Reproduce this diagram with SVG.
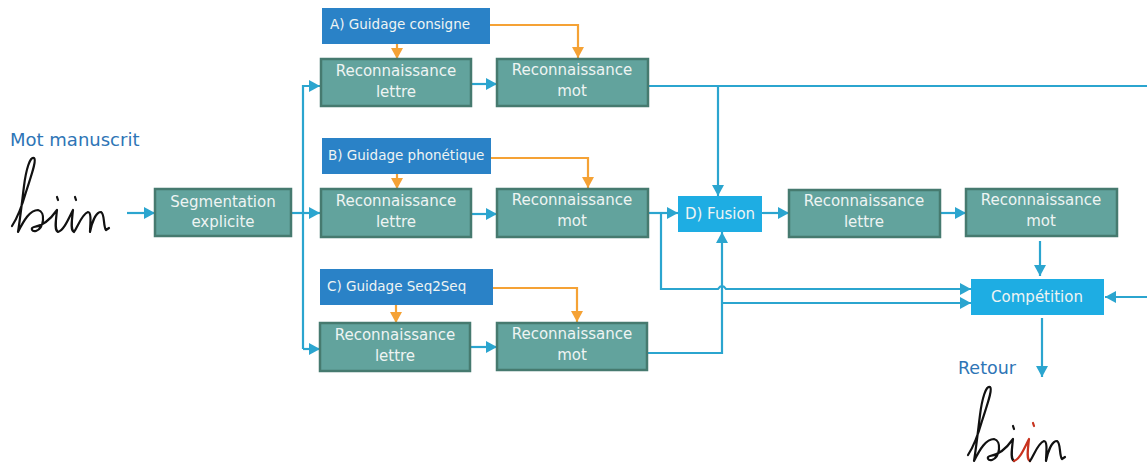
<svg xmlns="http://www.w3.org/2000/svg" width="1147" height="469" viewBox="0 0 1147 469">
  <style>
    .step { fill: #62A39D; stroke: #467A6F; stroke-width: 2.5; }
    .guide { fill: #2A82C7; }
    .merge { fill: #1EADE3; }
    .lbl { font-family: "DejaVu Sans", "Liberation Sans", sans-serif; font-size: 15px; fill: #EEF4F3; text-anchor: middle; }
    .glbl { font-family: "DejaVu Sans", "Liberation Sans", sans-serif; font-size: 13.5px; fill: #EEF4F3; }
    .cap { font-family: "DejaVu Sans", "Liberation Sans", sans-serif; font-size: 18px; fill: #2E75B6; }
    .flow { fill: none; stroke: #2BA5CF; stroke-width: 2.2; }
    .hint { fill: none; stroke: #F5A235; stroke-width: 2.2; }
    .ink { fill: none; stroke: #111; stroke-width: 2.2; stroke-linecap: round; stroke-linejoin: round; }
    .ink-red { fill: none; stroke: #C8321E; stroke-width: 2.2; stroke-linecap: round; stroke-linejoin: round; }
  </style>
  <defs>
    <marker id="arrB" markerUnits="userSpaceOnUse" markerWidth="13" markerHeight="13" refX="11" refY="6" orient="auto">
      <path d="M0,0 L11,6 L0,12 Z" fill="#2BA5CF"/>
    </marker>
    <marker id="arrO" markerUnits="userSpaceOnUse" markerWidth="13" markerHeight="13" refX="11" refY="6" orient="auto">
      <path d="M0,0 L11,6 L0,12 Z" fill="#F5A235"/>
    </marker>
  </defs>

  <!-- handwritten input word -->
  <g id="input">
    <text class="cap" x="10" y="146">Mot manuscrit</text>
    <g id="ink-in">
      <path class="ink" d="M12,226 C16,220 22,206 26,192 C31,176 37,160 34,158 C30,156 26,170 24,186 C22,202 20,220 18,232 C24,220 30,210 38,210 C46,212 44,228 36,231 C32,232 30,228 34,227 C42,226 50,220 57,210 C56,220 54,230 58,232 C64,230 68,220 73,210 C72,220 70,230 74,232 C78,226 82,214 88,212 C92,212 90,226 90,232 C92,222 96,212 101,212 C105,214 103,226 106,230 L109,228"/>
      <path class="ink" d="M57,197 L58,200 M75,197 L76,200"/>
    </g>
  </g>

  <!-- returned word -->
  <g id="output">
    <text class="cap" x="958" y="374" style="font-size:17.5px">Retour</text>
    <g transform="translate(956,229)">
      <path class="ink" d="M12,226 C16,220 22,206 26,192 C31,176 37,160 34,158 C30,156 26,170 24,186 C22,202 20,220 18,232 C24,220 30,210 38,210 C46,212 44,228 36,231 C32,232 30,228 34,227 C42,226 50,220 57,210 C56,220 54,230 58,232"/>
      <path class="ink-red" d="M58,232 C64,230 68,220 73,210 C72,220 70,230 74,232"/>
      <path class="ink" d="M74,232 C78,226 82,214 88,212 C92,212 90,226 90,232 C92,222 96,212 101,212 C105,214 103,226 106,230 L109,228"/>
      <path class="ink" d="M57,197 L58,200"/>
      <path class="ink-red" d="M77,194 L78,197"/>
    </g>
  </g>

  <!-- connectors -->
  <g id="connectors">
    <path class="flow" d="M127,213 L155,213" marker-end="url(#arrB)"/>
    <path class="flow" d="M291,213 L320,213" marker-end="url(#arrB)"/>
    <path class="flow" d="M303,349 L303,86 L320,86" marker-end="url(#arrB)"/>
    <path class="flow" d="M303,349 L320,349" marker-end="url(#arrB)"/>
    <path class="flow" d="M471,84 L497,84" marker-end="url(#arrB)"/>
    <path class="flow" d="M471,214 L497,214" marker-end="url(#arrB)"/>
    <path class="flow" d="M471,347 L497,347" marker-end="url(#arrB)"/>
    <path class="flow" d="M648,86 L1147,86"/>
    <path class="flow" d="M718,86 L718,196" marker-end="url(#arrB)"/>
    <path class="flow" d="M648,213 L678,213" marker-end="url(#arrB)"/>
    <path class="flow" d="M661,213 L661,289 L718,289 Q722,283 726,289 L971,289" marker-end="url(#arrB)"/>
    <path class="flow" d="M648,353 L722,353 L722,232" marker-end="url(#arrB)"/>
    <path class="flow" d="M722,303 L971,303" marker-end="url(#arrB)"/>
    <path class="flow" d="M762,213 L789,213" marker-end="url(#arrB)"/>
    <path class="flow" d="M940,213 L966,213" marker-end="url(#arrB)"/>
    <path class="flow" d="M1040,241 L1040,276" marker-end="url(#arrB)"/>
    <path class="flow" d="M1147,297 L1105,297" marker-end="url(#arrB)"/>
    <path class="flow" d="M1042,318 L1042,377" marker-end="url(#arrB)"/>

    <path class="hint" d="M397,44 L397,59" marker-end="url(#arrO)"/>
    <path class="hint" d="M490,25 L578,25 L578,58" marker-end="url(#arrO)"/>
    <path class="hint" d="M397,174 L397,189" marker-end="url(#arrO)"/>
    <path class="hint" d="M491,158 L588,158 L588,188" marker-end="url(#arrO)"/>
    <path class="hint" d="M396,305 L396,323" marker-end="url(#arrO)"/>
    <path class="hint" d="M493,288 L577,288 L577,322" marker-end="url(#arrO)"/>
  </g>

  <g id="segmentation">
    <rect class="step" x="155" y="189" width="136" height="47"/>
    <text class="lbl" x="223" y="207">Segmentation</text>
    <text class="lbl" x="223" y="227">explicite</text>
  </g>

  <!-- branch A -->
  <g id="guide-a">
    <rect class="guide" x="322" y="8" width="168" height="36"/>
    <text class="glbl" x="330" y="29">A) Guidage consigne</text>
  </g>
  <g id="letter-a">
    <rect class="step" x="321" y="59" width="150" height="47"/>
    <text class="lbl" x="396" y="76">Reconnaissance</text>
    <text class="lbl" x="396" y="97">lettre</text>
  </g>
  <g id="word-a">
    <rect class="step" x="497" y="59" width="151" height="47"/>
    <text class="lbl" x="572" y="75">Reconnaissance</text>
    <text class="lbl" x="572" y="96">mot</text>
  </g>

  <!-- branch B -->
  <g id="guide-b">
    <rect class="guide" x="322" y="138" width="169" height="36"/>
    <text class="glbl" x="328" y="160">B) Guidage phonétique</text>
  </g>
  <g id="letter-b">
    <rect class="step" x="321" y="189" width="150" height="48"/>
    <text class="lbl" x="396" y="206">Reconnaissance</text>
    <text class="lbl" x="396" y="227">lettre</text>
  </g>
  <g id="word-b">
    <rect class="step" x="497" y="189" width="151" height="48"/>
    <text class="lbl" x="572" y="205">Reconnaissance</text>
    <text class="lbl" x="572" y="226">mot</text>
  </g>

  <!-- branch C -->
  <g id="guide-c">
    <rect class="guide" x="320" y="269" width="173" height="36"/>
    <text class="glbl" x="327" y="291">C) Guidage Seq2Seq</text>
  </g>
  <g id="letter-c">
    <rect class="step" x="320" y="323" width="150" height="48"/>
    <text class="lbl" x="395" y="340">Reconnaissance</text>
    <text class="lbl" x="395" y="361">lettre</text>
  </g>
  <g id="word-c">
    <rect class="step" x="497" y="323" width="150" height="47"/>
    <text class="lbl" x="572" y="339">Reconnaissance</text>
    <text class="lbl" x="572" y="360">mot</text>
  </g>

  <!-- fusion path -->
  <g id="fusion">
    <rect class="merge" x="678" y="196" width="84" height="36"/>
    <text class="lbl" x="720" y="219">D) Fusion</text>
  </g>
  <g id="letter-d">
    <rect class="step" x="789" y="190" width="151" height="47"/>
    <text class="lbl" x="864" y="206">Reconnaissance</text>
    <text class="lbl" x="864" y="227">lettre</text>
  </g>
  <g id="word-d">
    <rect class="step" x="966" y="189" width="151" height="47"/>
    <text class="lbl" x="1041" y="205">Reconnaissance</text>
    <text class="lbl" x="1041" y="226">mot</text>
  </g>

  <g id="competition">
    <rect class="merge" x="971" y="279" width="133" height="36"/>
    <text class="lbl" x="1037" y="302">Compétition</text>
  </g>
</svg>
